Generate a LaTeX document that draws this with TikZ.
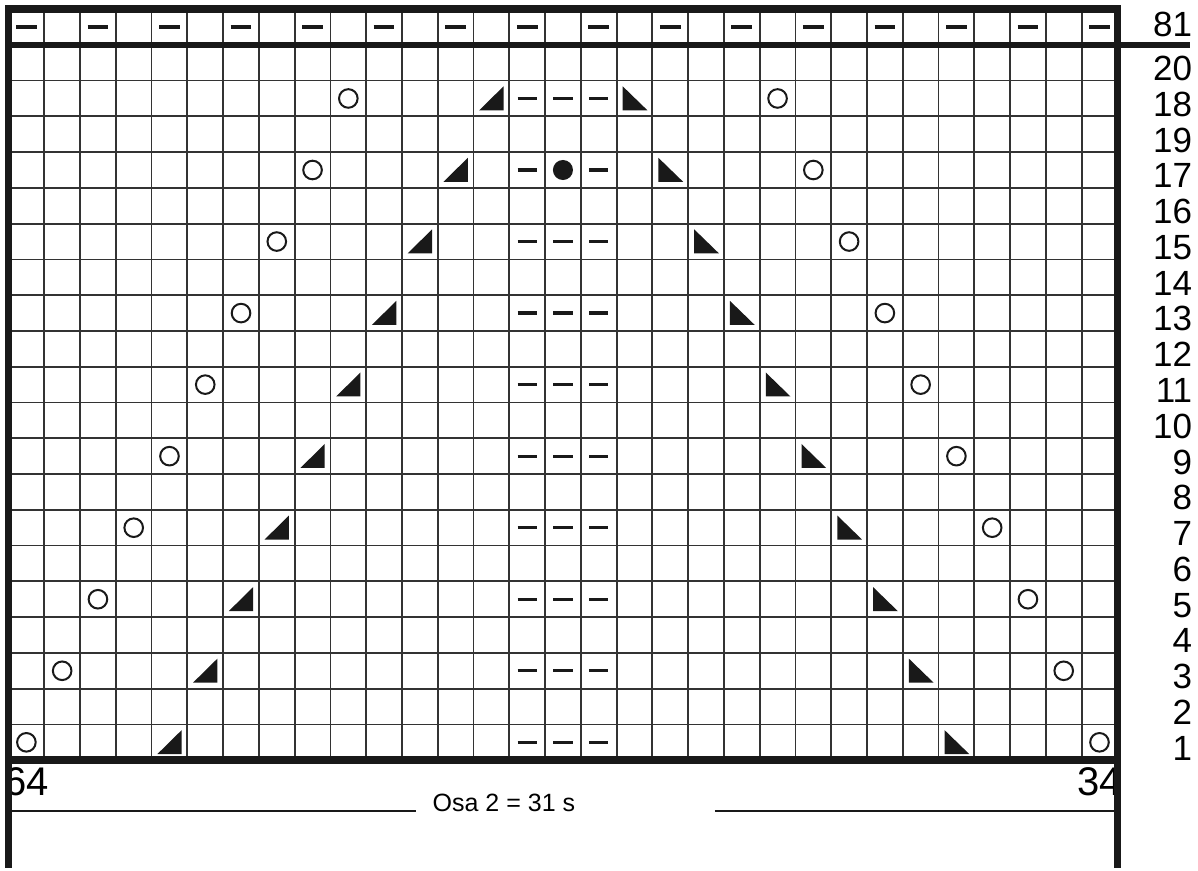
\documentclass[tikz,border=0pt]{standalone}
\usepackage{fontspec}
\setmainfont{Liberation Sans}
\begin{document}
\begin{tikzpicture}[x=17.885pt,y=17.885pt,
    gridline/.style={line width=0.9pt, black!80},
    frameline/.style={line width=3.8pt, black!90},
    purl/.style={line width=1.6pt, black!90},
    yarnover/.style={line width=1pt, black!90},
    rownum/.style={anchor=base east, inner sep=0pt, font=\fontsize{17.5}{18}\selectfont},
    stitchnum/.style={inner sep=0pt, font=\fontsize{20}{22}\selectfont}]
  \useasboundingbox (-0.238,-3.07) rectangle (33.254,21.253);
  % stitch numbers, partly under the frame
  \node[stitchnum, anchor=base west] (first) at (-0.12,-1) {64};
  \node[stitchnum, anchor=base east] (last) at (31.14,-1) {34};
  \foreach \c in {1,...,30}
    \draw[gridline] (\c,0) -- (\c,21);
  \foreach \r in {1,...,19}
    \draw[gridline] (0,\r) -- (31,\r);
  % row 81
  \foreach \c in {0,2,...,30}
    \draw[purl] (\c+0.21,20.5) -- (\c+0.79,20.5);
  % lace pattern
  \foreach \k in {0,...,9} {
    \pgfmathtruncatemacro\r{2*\k}
    \draw[yarnover] (\k+0.5,\r+0.5) circle (0.26);
    \draw[yarnover] (30.5-\k,\r+0.5) circle (0.26);
    \fill[black!90] (\k+4.16,\r+0.17) -- (\k+4.84,\r+0.17) -- (\k+4.84,\r+0.84) -- cycle;
    \fill[black!90] (26.17-\k,\r+0.17) -- (26.86-\k,\r+0.17) -- (26.17-\k,\r+0.84) -- cycle;
  }
  \foreach \r in {0,2,...,14,18}
    \foreach \c in {14,15,16}
      \draw[purl] (\c+0.23,\r+0.5) -- (\c+0.77,\r+0.5);
  \draw[purl] (14.23,16.5) -- (14.77,16.5);
  \draw[purl] (16.23,16.5) -- (16.77,16.5);
  \fill[black!90] (15.5,16.5) circle (0.28);
  % frame
  \draw[frameline] (0,0) rectangle (31,21);
  \draw[frameline] (0,0) -- (0,-3.01);
  \draw[frameline] (31,0) -- (31,-3.01);
  \draw[line width=3pt, black!90] (0,20) -- (33.03,20);
  % row numbers
  \node[rownum] (r81) at (33.1,20.23) {81};
  \foreach \j/\t in {0/1,1/2,2/3,3/4,4/5,5/6,6/7,7/8,8/9,9/10,10/11,11/12,12/13,13/14,14/15,15/16,16/17,17/19,18/18,19/20}
    \node[rownum] (r\t) at (33.1,\j) {\t};
  % width of part 2
  \coordinate (wl) at (0,-1.412);
  \coordinate (wr) at (31,-1.412);
  \node[anchor=base, inner sep=0pt, font=\fontsize{12.5}{14}\selectfont] (osa) at (13.85,-1.44) {Osa 2 = 31 s};
  \draw[line width=1pt, black!90] (wl) -- (11.39,-1.412);
  \draw[line width=1pt, black!90] (19.75,-1.412) -- (wr);
\end{tikzpicture}
\end{document}
